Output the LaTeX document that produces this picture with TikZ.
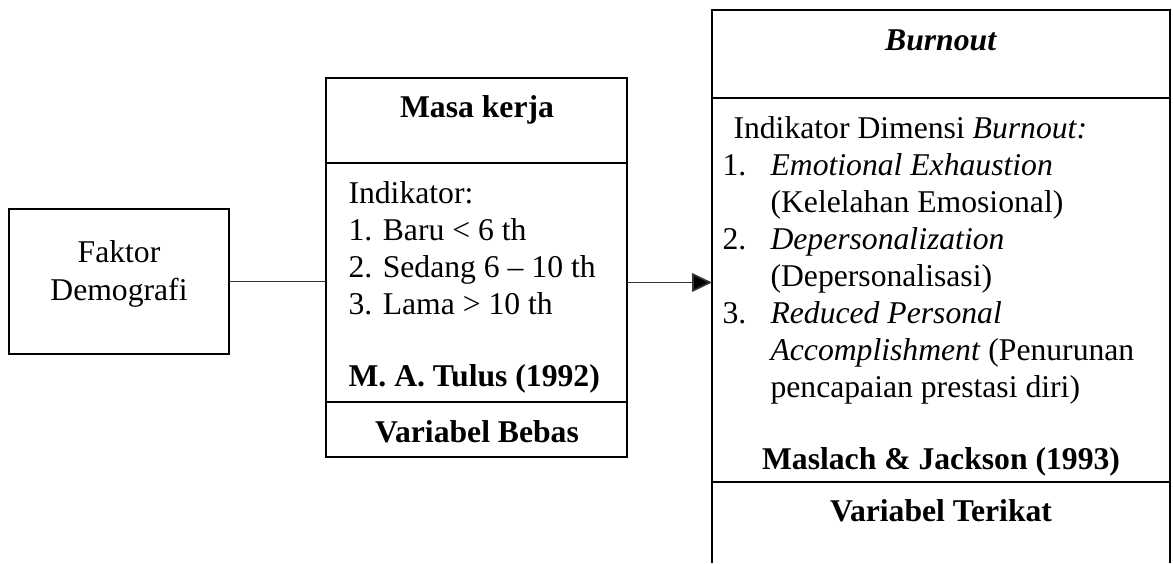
\documentclass[tikz,border=0pt]{standalone}
\usepackage{fontspec}
\setmainfont{Liberation Serif}
\usetikzlibrary{arrows.meta}
\newcommand\pxu{0.379pt}
\tikzset{
  sect/.style={draw, line width=0.8pt, inner sep=0pt, outer sep=0pt, anchor=north west},
  txt/.style={anchor=base west, inner sep=0pt, font=\fontsize{12}{13.8}\selectfont},
  ctxt/.style={anchor=base, inner sep=0pt, font=\fontsize{12}{13.8}\selectfont},
  link/.style={line width=0.65pt, draw=black!80},
}
\begin{document}
\begin{tikzpicture}[x=0.379pt, y=-0.379pt]
      \useasboundingbox (0,0) rectangle (1173,563);
      %
      \node[sect, minimum width=220*\pxu, minimum height=145*\pxu] (faktor) at (9,209) {}; % left box
      \node[ctxt] (faktorA) at (119,262) {Faktor};
      \node[ctxt] (faktorB) at (119,300) {Demografi};
      %
      \node[sect, minimum width=301*\pxu, minimum height=85*\pxu] (masa) at (326,78) {};      % middle column
      \node[sect, minimum width=301*\pxu, minimum height=239*\pxu] (indmasa) at (326,163) {};
      \node[sect, minimum width=301*\pxu, minimum height=55*\pxu] (bebas) at (326,402) {};
      %
      \node[ctxt] (masaT) at (477,117) {\textbf{Masa kerja}};
      \node[txt] (indA) at (348,203) {Indikator:};
      \node[txt] (indB) at (348,240) {1. Baru < 6 th};
      \node[txt] (indC) at (348,277) {2. Sedang 6 -- 10 th};
      \node[txt] (indD) at (348,314) {3. Lama > 10 th};
      \node[txt] (tulus) at (348,386) {\textbf{M. A. Tulus (1992)}};
      \node[ctxt] (bebasT) at (477,442) {\textbf{Variabel Bebas}};
      %%
      \node[sect, minimum width=458*\pxu, minimum height=88*\pxu] (burnout) at (712,10) {}; % right column
      \node[sect, minimum width=458*\pxu, minimum height=384*\pxu] (indburn) at (712,98) {};
      \node[sect, draw=none, minimum width=458*\pxu, minimum height=81*\pxu] (terikat) at (712,482) {};
      \draw[line width=0.8pt] (terikat.north west) -- (terikat.south west);
      \draw[line width=0.8pt] (terikat.north east) -- (terikat.south east);
      %
      \node[ctxt] (burnT) at (941,50) {\textbf{\textit{Burnout}}};
      \node[txt] (dimA) at (733,138) {Indikator Dimensi \textit{Burnout:}};
      \node[txt] (numA) at (722,175) {1.};
      \node[txt] (dimB) at (770,175) {\textit{Emotional Exhaustion}};
      \node[txt] (dimC) at (770,212) {(Kelelahan Emosional)};
      \node[txt] (numB) at (722,249) {2.};
      \node[txt] (dimD) at (770,249) {\textit{Depersonalization}};
      \node[txt] (dimE) at (770,286) {(Depersonalisasi)};
      \node[txt] (numC) at (722,323) {3.};
      \node[txt] (dimF) at (770,323) {\textit{Reduced Personal}};
      \node[txt] (dimG) at (770,360) {\textit{Accomplishment} (Penurunan};
      \node[txt] (dimH) at (770,397) {pencapaian prestasi diri)};
      \node[ctxt] (maslach) at (941,469) {\textbf{Maslach \& Jackson (1993)}};
      \node[ctxt] (terikatT) at (941,521) {\textbf{Variabel Terikat}};
      %
      \draw[link] (faktor.east) -- (faktor.east -| indmasa.west);             % connectors
      \draw[link, -{Triangle[length=7.5pt, width=7pt, fill=black]}] (indmasa.east) -- (indmasa.east -| indburn.west);
      %
    \end{tikzpicture}
\end{document}
